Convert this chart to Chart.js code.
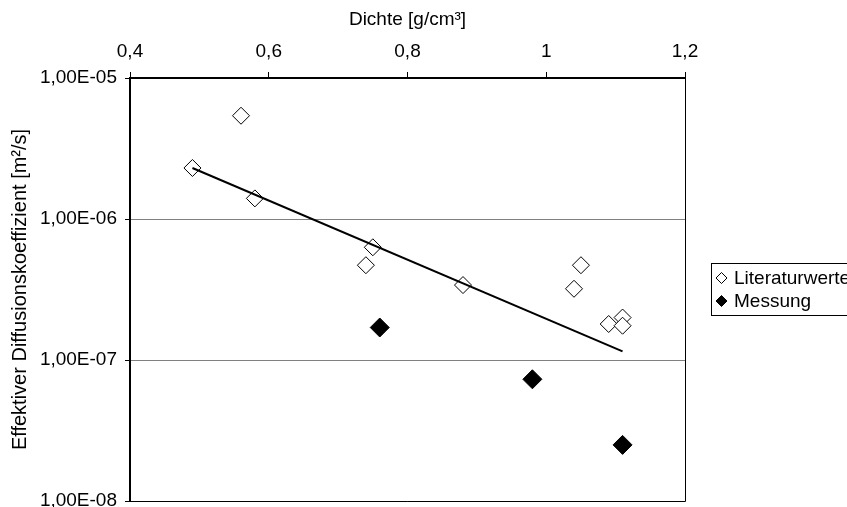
<!DOCTYPE html>
<html>
<head>
<meta charset="utf-8">
<script src="https://cdn.jsdelivr.net/npm/chart.js@4/dist/chart.umd.min.js"></script>
<style>
  html, body { margin: 0; padding: 0; background: #fff; overflow: hidden; }
  #wrap { width: 847px; height: 507px; }
</style>
</head>
<body>
<div id="wrap"><canvas id="chart" width="847" height="507"></canvas></div>
<script>
// values
const literatureX = [0.49, 0.56, 0.58, 0.75, 0.74, 0.88, 1.05, 1.04, 1.09, 1.11, 1.11];
const literatureY = [2.3e-6, 5.4e-6, 1.4e-6, 6.3e-7, 4.7e-7, 3.4e-7, 4.7e-7, 3.2e-7, 1.8e-7, 2.0e-7, 1.75e-7];
const measuredX = [0.76, 0.98, 1.11];
const measuredY = [1.7e-7, 7.3e-8, 2.5e-8];
const trendX = [0.49, 1.11];
const trendY = [2.3e-6, 1.15e-7];

const xTickValues = [0.4, 0.6, 0.8, 1.0, 1.2];
const xTickLabels = ["0,4", "0,6", "0,8", "1", "1,2"];
const yTickValues = [1e-8, 1e-7, 1e-6, 1e-5];
const yTickLabels = ["1,00E-08", "1,00E-07", "1,00E-06", "1,00E-05"];

const FONT = "'Liberation Sans', Arial, sans-serif";

function toPoints(xs, ys) {
  return xs.map((x, i) => ({ x: x, y: ys[i] }));
}

const noPadding = () => ({ left: 0, top: 0, right: 0, bottom: 0 });

// plot area frame (right/bottom) + boxed legend on the right
const framePlugin = {
  id: "frameAndLegend",
  afterDraw(chart) {
    const { ctx, chartArea } = chart;
    ctx.save();
    ctx.strokeStyle = "#000";
    ctx.lineWidth = 1;
    ctx.beginPath();
    ctx.moveTo(chartArea.right + 0.5, chartArea.top);
    ctx.lineTo(chartArea.right + 0.5, chartArea.bottom + 0.5);
    ctx.lineTo(chartArea.left, chartArea.bottom + 0.5);
    ctx.stroke();

    // legend box
    ctx.strokeRect(711.5, 263.5, 200, 52);
    const rows = [278, 301];
    [0, 1].forEach((dsIndex, i) => {
      const ds = chart.data.datasets[dsIndex];
      const cx = 721.5, cy = rows[i], r = 5.5;
      ctx.beginPath();
      ctx.moveTo(cx, cy - r);
      ctx.lineTo(cx + r, cy);
      ctx.lineTo(cx, cy + r);
      ctx.lineTo(cx - r, cy);
      ctx.closePath();
      ctx.fillStyle = ds.backgroundColor;
      ctx.fill();
      ctx.strokeStyle = "#000";
      ctx.stroke();
      ctx.fillStyle = "#000";
      ctx.font = "19px " + FONT;
      ctx.textBaseline = "middle";
      ctx.textAlign = "left";
      ctx.fillText(ds.label, 734, cy + 1);
    });
    ctx.restore();
  },
};

new Chart(document.getElementById("chart"), {
  type: "scatter",
  data: {
    datasets: [
      {
        label: "Literaturwerte",
        data: toPoints(literatureX, literatureY),
        pointStyle: "rectRot",
        pointRadius: 8.5,
        pointHoverRadius: 8.5,
        backgroundColor: "#ffffff",
        borderColor: "#000000",
        borderWidth: 1,
        order: 2,
      },
      {
        label: "Messung",
        data: toPoints(measuredX, measuredY),
        pointStyle: "rectRot",
        pointRadius: 9.5,
        pointHoverRadius: 9.5,
        backgroundColor: "#000000",
        borderColor: "#000000",
        borderWidth: 1,
        order: 3,
      },
      {
        label: "Trend",
        type: "line",
        data: toPoints(trendX, trendY),
        borderColor: "#000000",
        borderWidth: 2,
        pointRadius: 0,
        fill: false,
        tension: 0,
        order: 1,
      },
    ],
  },
  options: {
    responsive: false,
    animation: false,
    layout: {
      autoPadding: false,
      padding: { left: 0, top: 0, right: 162, bottom: 6 },
    },
    plugins: {
      legend: { display: false },
      tooltip: { enabled: false },
    },
    scales: {
      x: {
        type: "linear",
        position: "top",
        min: 0.4,
        max: 1.2,
        afterBuildTicks: (scale) => {
          scale.ticks = xTickValues.map((v) => ({ value: v }));
        },
        afterFit: (scale) => {
          scale.height = 78;
          scale.getPadding = noPadding;
        },
        ticks: {
          callback: (value, index) => xTickLabels[index],
          color: "#000",
          font: { family: FONT, size: 19 },
          padding: 9,
          maxRotation: 0,
        },
        grid: {
          drawOnChartArea: false,
          tickLength: 6,
          color: "#000",
          tickColor: "#000",
        },
        border: { color: "#000", width: 2 },
        title: {
          display: true,
          text: "Dichte [g/cm³]",
          color: "#000",
          font: { family: FONT, size: 19 },
          padding: { top: 8, bottom: 0 },
        },
      },
      y: {
        type: "logarithmic",
        min: 1e-8,
        max: 1e-5,
        afterBuildTicks: (scale) => {
          scale.ticks = yTickValues.map((v) => ({ value: v }));
        },
        afterFit: (scale) => {
          scale.width = 130;
          scale.getPadding = noPadding;
        },
        ticks: {
          callback: (value, index) => yTickLabels[index],
          color: "#000",
          font: { family: FONT, size: 19 },
          padding: 8,
        },
        grid: {
          color: "#808080",
          tickColor: "#000",
          tickLength: 5,
          lineWidth: 1,
        },
        border: { color: "#000", width: 2 },
        title: {
          display: true,
          text: "Effektiver Diffusionskoeffizient [m²/s]",
          color: "#000",
          font: { family: FONT, size: 20 },
          padding: { top: 8, bottom: 0 },
        },
      },
    },
  },
  plugins: [framePlugin],
});
</script>
</body>
</html>
